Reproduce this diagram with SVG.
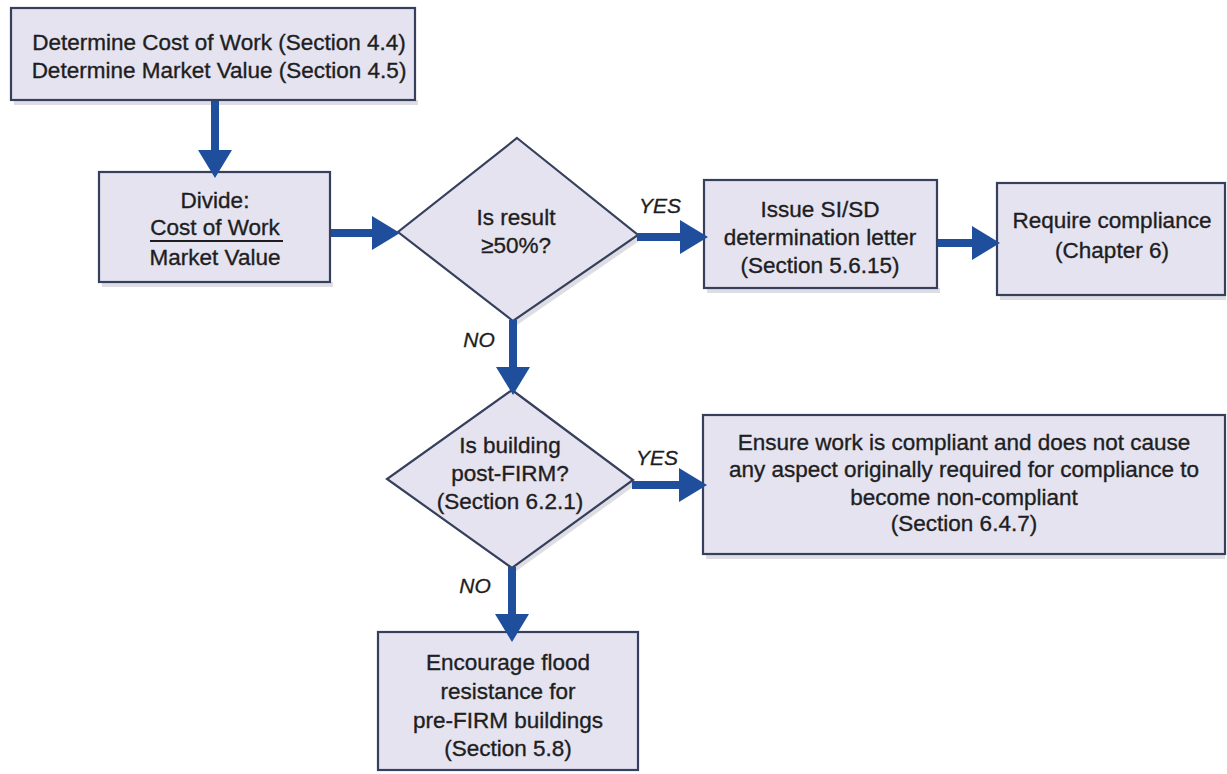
<svg xmlns="http://www.w3.org/2000/svg" width="1227" height="774" viewBox="0 0 1227 774">
<style>
.box{fill:#e5e3ef;stroke:#36405c;stroke-width:2.2}
.shadow{fill:#d6d5dc;opacity:0.8}
.t{font-family:"Liberation Sans",Arial,sans-serif;font-size:22.5px;fill:#1e1e22;stroke:#1e1e22;stroke-width:0.35;text-anchor:middle}
.lbl{font-family:"Liberation Sans",Arial,sans-serif;font-size:21px;font-style:italic;fill:#1e1e22;stroke:#1e1e22;stroke-width:0.3;text-anchor:middle}
.conn{fill:none;stroke:#1f4f9c;stroke-width:8;marker-end:url(#ah)}
</style>
<defs>
<marker id="ah" markerUnits="userSpaceOnUse" markerWidth="30" markerHeight="34" refX="2" refY="17" orient="auto">
<path d="M0,0 L28,17 L0,34 Z" fill="#1f4f9c"/>
</marker>
</defs>
<rect width="1227" height="774" fill="#ffffff"/>

<g id="n1">
<rect class="shadow" x="14" y="100" width="404" height="5"/>
<rect class="box" x="11" y="8" width="404" height="92"/>
<text class="t" x="219" y="50">Determine Cost of Work (Section 4.4)</text>
<text class="t" x="219" y="78">Determine Market Value (Section 4.5)</text>
</g>

<g id="n2">
<rect class="shadow" x="102" y="282" width="231" height="5"/>
<rect class="box" x="99" y="172" width="231" height="110"/>
<text class="t" x="215" y="208">Divide:</text>
<text class="t" x="215" y="235">Cost of Work</text>
<line x1="150" y1="241" x2="283" y2="241" stroke="#1e1e22" stroke-width="1.8"/>
<text class="t" x="215" y="265">Market Value</text>
</g>

<g id="n3">
<polygon class="shadow" points="642,239 517,325 517,319 638,235"/>
<polygon class="box" points="517,138 638,235 513,321 398,232"/>
<text class="t" x="516" y="225">Is result</text>
<text class="t" x="516" y="253">≥50%?</text>
</g>

<g id="n4">
<rect class="shadow" x="707" y="288" width="233" height="5"/>
<rect class="box" x="704" y="180" width="233" height="108"/>
<text class="t" x="820" y="217">Issue SI/SD</text>
<text class="t" x="820" y="245">determination letter</text>
<text class="t" x="820" y="273">(Section 5.6.15)</text>
</g>

<g id="n5">
<rect class="shadow" x="1000" y="295" width="226" height="5"/>
<rect class="box" x="997" y="183" width="228" height="112"/>
<text class="t" x="1112" y="228">Require compliance</text>
<text class="t" x="1112" y="258">(Chapter 6)</text>
</g>

<g id="n6">
<polygon class="shadow" points="637,484 515,572 515,566 633,480"/>
<polygon class="box" points="512,390 633,480 512,568 387,479"/>
<text class="t" x="510" y="453">Is building</text>
<text class="t" x="510" y="481">post-FIRM?</text>
<text class="t" x="510" y="509">(Section 6.2.1)</text>
</g>

<g id="n7">
<rect class="shadow" x="706" y="554" width="519" height="5"/>
<rect class="box" x="703" y="415" width="522" height="139"/>
<text class="t" x="964" y="450">Ensure work is compliant and does not cause</text>
<text class="t" x="964" y="477">any aspect originally required for compliance to</text>
<text class="t" x="964" y="505">become non-compliant</text>
<text class="t" x="964" y="531">(Section 6.4.7)</text>
</g>

<g id="n8">
<rect class="box" x="378" y="632" width="260" height="138"/>
<text class="t" x="508" y="670">Encourage flood</text>
<text class="t" x="508" y="699">resistance for</text>
<text class="t" x="508" y="728">pre-FIRM buildings</text>
<text class="t" x="508" y="756">(Section 5.8)</text>
</g>

<g id="connectors">
<path class="conn" d="M215,101 V152"/>
<path class="conn" d="M331,233 H374"/>
<path class="conn" d="M637,237 H682"/>
<path class="conn" d="M938,243 H974"/>
<path class="conn" d="M513,320 V369"/>
<path class="conn" d="M632,485 H681"/>
<path class="conn" d="M512,567 V616"/>
<text class="lbl" x="660" y="213">YES</text>
<text class="lbl" x="479" y="347">NO</text>
<text class="lbl" x="657" y="465">YES</text>
<text class="lbl" x="475" y="593">NO</text>
</g>
</svg>
